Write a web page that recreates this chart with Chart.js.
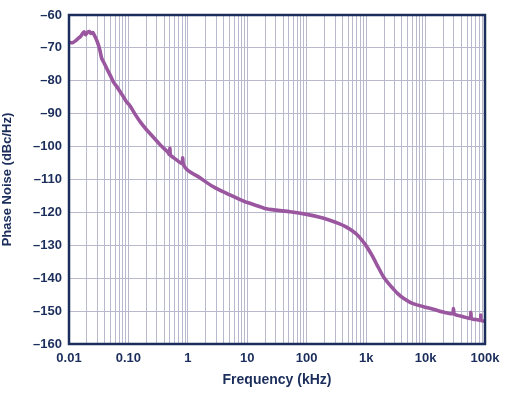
<!DOCTYPE html>
<html>
<head>
<meta charset="utf-8">
<script src="https://cdn.jsdelivr.net/npm/chart.js@4/dist/chart.umd.min.js"></script>
<style>
  html, body { margin: 0; padding: 0; background: #ffffff; }
  #wrap { width: 512px; height: 396px; }
</style>
</head>
<body>
<div id="wrap"><canvas id="pn"></canvas></div>
<script>
const freqKHz = [
  0.01, 0.0115, 0.013, 0.0145, 0.0155, 0.017, 0.018, 0.019, 0.0205, 0.022,
  0.0235, 0.025, 0.0275, 0.03, 0.033, 0.0355, 0.039, 0.043, 0.049, 0.0557,
  0.065, 0.074, 0.082, 0.092, 0.106, 0.13, 0.157, 0.2, 0.23, 0.34,
  0.45, 0.49, 0.5, 0.51, 0.62, 0.8, 0.82, 0.84, 1.0, 1.6,
  2.5, 3.5, 5.0, 7.6, 10, 16, 19.7, 30, 52.5, 100,
  160, 245, 350, 450, 535, 650, 750, 970, 1250, 1530, 1900, 2280,
  2880, 3360, 4250, 5600, 7130, 9900, 14000, 20000, 28500, 29500,
  30500, 43000, 56500, 58000, 59500, 75000, 84000, 85000, 86000, 100000
];
const noiseDbc = [
  -68.3, -68.4, -67.8, -67.0, -66.6, -65.6, -65.1, -66.0, -65.3, -65.0,
  -65.6, -65.3, -66.6, -68.2, -70.6, -73.2, -74.6, -76.2, -78.2, -80.3,
  -82.0, -83.6, -84.8, -86.3, -87.6, -90.2, -92.4, -94.8, -96.0, -99.4,
  -101.5, -102.4, -100.5, -102.6, -103.8, -105.2, -103.4, -105.4, -107.2, -109.5,
  -111.9, -113.3, -114.6, -116.1, -117.0, -118.2, -118.8, -119.3, -119.8, -120.6,
  -121.4, -122.4, -123.4, -124.3, -125.1, -126.2, -127.3, -129.8, -133.0, -136.0, -139.2, -141.2,
  -143.3, -144.6, -146.1, -147.4, -148.1, -148.8, -149.5, -150.3, -150.8, -149.2,
  -150.9, -151.7, -152.2, -150.4, -152.3, -152.6, -152.8, -151.2, -152.9, -153.0
];
const xDecades = [0.01, 0.1, 1, 10, 100, 1000, 10000, 100000];
const xLabels = ['0.01', '0.10', '1', '10', '100', '1k', '10k', '100k'];
const yTicks = [-160, -150, -140, -130, -120, -110, -100, -90, -80, -70, -60];

const navy = '#1b2d5b';
const gridColor = '#b9b9cd';
const lineColor = '#9a57a0';

// Full log grid: 1..9 in every decade
const xGridValues = [];
for (let d = 0; d < xDecades.length; d++) {
    for (let m = 1; m <= 9; m++) {
        const v = xDecades[d] * m;
        if (v <= 100000 * 1.0001) xGridValues.push(v);
    }
}

// Frame round the plot area
const frame = {
    id: 'frame',
    afterDraw(chart) {
        const a = chart.chartArea;
        const ctx = chart.ctx;
        ctx.save();
        ctx.strokeStyle = navy;
        ctx.lineWidth = 2.5;
        ctx.strokeRect(a.left, a.top, a.right - a.left, a.bottom - a.top);
        ctx.restore();
    }
};

const points = freqKHz.map((f, i) => ({ x: f, y: noiseDbc[i] }));

new Chart(document.getElementById('pn'), {
    type: 'line',
    data: {
        datasets: [{
            data: points,
            borderColor: lineColor,
            borderWidth: 3.6,
            pointRadius: 0,
            tension: 0.2,
            fill: false
        }]
    },
    options: {
        responsive: true,
        maintainAspectRatio: false,
        animation: false,
        layout: { padding: { top: 15, right: 27, left: 0, bottom: 0 } },
        plugins: { legend: { display: false }, tooltip: { enabled: false } },
        scales: {
            x: {
                type: 'logarithmic',
                min: 0.01,
                max: 100000,
                afterBuildTicks(scale) {
                    scale.ticks = xGridValues.map(v => ({ value: v }));
                },
                afterFit(scale) { scale.height = 52; },
                grid: { color: gridColor, lineWidth: 1, drawTicks: false },
                border: { display: false },
                ticks: {
                    autoSkip: false,
                    maxRotation: 0,
                    padding: 7,
                    color: navy,
                    font: { family: 'Liberation Sans, Arial, sans-serif', size: 13, weight: 'bold' },
                    callback: function(value) {
                        const idx = xDecades.findIndex(d => Math.abs(d - value) / d < 1e-6);
                        return idx >= 0 ? xLabels[idx] : '';
                    }
                },
                title: {
                    display: true,
                    text: 'Frequency (kHz)',
                    color: navy,
                    padding: { top: 4, bottom: 7 },
                    font: { family: 'Liberation Sans, Arial, sans-serif', size: 14, weight: 'bold' }
                }
            },
            y: {
                type: 'linear',
                min: -160,
                max: -60,
                afterBuildTicks(scale) {
                    scale.ticks = yTicks.map(v => ({ value: v }));
                },
                afterFit(scale) { scale.width = 69; },
                grid: { color: gridColor, lineWidth: 1, drawTicks: false },
                border: { display: false },
                ticks: {
                    padding: 7,
                    color: navy,
                    font: { family: 'Liberation Sans, Arial, sans-serif', size: 13, weight: 'bold' },
                    callback: v => '\u2013' + Math.abs(v)
                },
                title: {
                    display: true,
                    text: 'Phase Noise (dBc/Hz)',
                    color: navy,
                    padding: { top: 0, bottom: 0 },
                    font: { family: 'Liberation Sans, Arial, sans-serif', size: 13, weight: 'bold' }
                }
            }
        }
    },
    plugins: [frame]
});
</script>
</body>
</html>
